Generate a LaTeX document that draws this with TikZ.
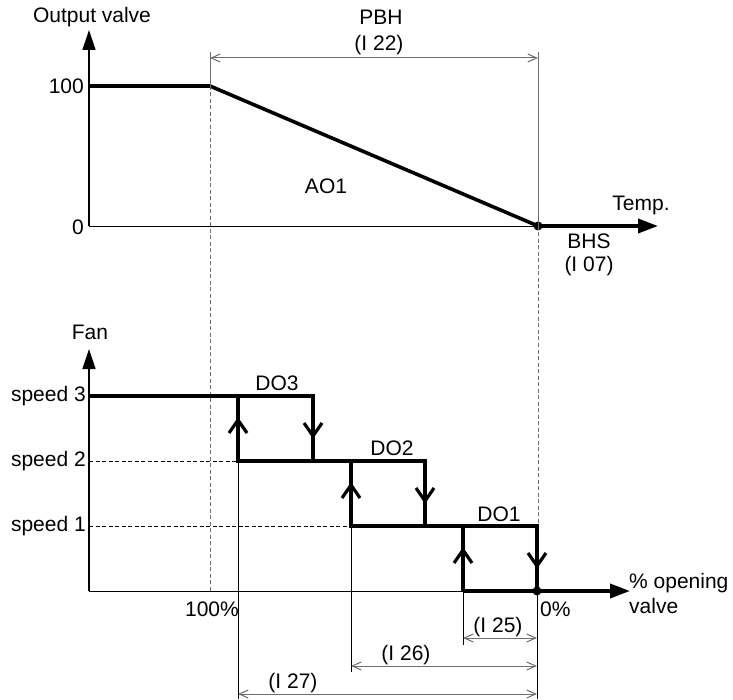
\documentclass[tikz,border=0pt]{standalone}
\usepackage{fontspec}
\setmainfont{Liberation Sans}
\usepackage{tikz}
\usetikzlibrary{arrows.meta, calc}
\definecolor{dimgray}{HTML}{6E6E6E}

\tikzset{
  axisline/.style={line width=1.3pt, -{Triangle[length=20pt,width=13pt]}},
  curve/.style={line width=3.6pt, line join=miter},
  curvearrow/.style={curve, -{Triangle[length=20pt,width=14pt]}},
  vmark/.pic={\draw[line width=3.2pt, line join=miter] (-9,13) -- (0,0) -- (9,13);},
  guide/.style={line width=0.8pt, dash pattern=on 4pt off 2.5pt},
  gguide/.style={guide, draw=dimgray},
  extline/.style={line width=0.9pt},
  dimline/.style={draw=dimgray, line width=1pt,
    {Straight Barb[length=9pt,width=8pt]}-{Straight Barb[length=9pt,width=8pt]}},
  lbl/.style={inner sep=0pt}
}

\begin{document}
\begin{tikzpicture}[x=1pt, y=-1pt, font=\fontsize{21}{25}\selectfont]
  \useasboundingbox (0,0) rectangle (733,700);

  % upper graph
  \coordinate (o1) at (89,226);
  \coordinate (v100) at (89,86);
  \coordinate (knee) at (210,86);
  \coordinate (bhs) at (538,226);
  \draw[axisline] (o1) -- (89,30);
  \draw[extline] (o1) -- (bhs);
  \draw[curve] (v100) -- (knee) -- (bhs);
  \draw[curvearrow] (bhs) -- (658,226);
  \fill (bhs) circle (4.5pt);

  \node[lbl] (outv) at (92,17) {Output valve};
  \node[lbl, anchor=east] (l100) at (84,86) {100};
  \node[lbl, anchor=east] (l0) at (84,227) {0};
  \node[lbl] (ao1) at (326,186) {AO1};
  \node[lbl] (temp) at (641,205) {Temp.};
  \node[lbl] (bhsl) at (589,241) {BHS};
  \node[lbl] (i07) at (589,266) {(I 07)};

  \draw[draw=dimgray, line width=1pt] (210,52) -- (knee);
  \draw[draw=dimgray, line width=1pt] (538,52) -- (bhs);
  \draw[dimline] (210,58) -- (538,58);
  \node[lbl] (pbh) at (381,17) {PBH};
  \node[lbl] (i22) at (379,45) {(I 22)};

  % lower graph
  \coordinate (o2) at (89,591);
  \coordinate (sp3) at (89,396);
  \coordinate (sp2) at (89,461);
  \coordinate (sp1) at (89,526);
  \draw[axisline] (o2) -- (89,349);
  \draw[extline] (o2) -- (463,591);

  \draw[gguide] (knee) -- (210,591);
  \draw[gguide] (bhs) -- (538,526);
  \draw[guide] (sp2) -- (238,461);
  \draw[guide] (sp1) -- (351,526);

  \draw[curve] (sp3) -- (313,396) -- (313,461);
  \draw[curve] (238,396) -- (238,461) -- (425,461) -- (425,526);
  \draw[curve] (351,461) -- (351,526) -- (537,526) -- (537,591);
  \draw[curve] (463,526) -- (463,591);
  \draw[curvearrow] (463,591) -- (630,591);
  \fill (537,591) circle (4.5pt);

  \pic at (238,420) {vmark};
  \pic at (351,485) {vmark};
  \pic at (463,550) {vmark};
  \pic[rotate=180] at (313,436) {vmark};
  \pic[rotate=180] at (425,501) {vmark};
  \pic[rotate=180] at (537,566) {vmark};

  \node[lbl] (fan) at (90,332) {Fan};
  \node[lbl, anchor=east] (ls3) at (86,396) {speed 3};
  \node[lbl, anchor=east] (ls2) at (86,461) {speed 2};
  \node[lbl, anchor=east] (ls1) at (86,526) {speed 1};
  \node[lbl] (do3) at (277,383) {DO3};
  \node[lbl] (do2) at (392,448) {DO2};
  \node[lbl] (do1) at (499,514) {DO1};
  \node[lbl, anchor=east] (p100) at (239,609) {100\%};
  \node[lbl, anchor=west] (p0) at (540,609) {0\%};
  \node[lbl, anchor=west, align=left] (openv) at (629,593) {\% opening\\valve};

  % hysteresis widths
  \draw[extline] (238,461) -- (238,699);
  \draw[extline] (351,526) -- (351,672);
  \draw[extline] (463,591) -- (463,645);
  \draw[extline] (537,591) -- (537,699);
  \draw[dimline] (463,638) -- (537,638);
  \draw[dimline] (351,666) -- (537,666);
  \draw[dimline] (238,694) -- (537,694);
  \node[lbl] (i25) at (498,627) {(I 25)};
  \node[lbl] (i26) at (406,655) {(I 26)};
  \node[lbl] (i27) at (293,683) {(I 27)};
\end{tikzpicture}
\end{document}
